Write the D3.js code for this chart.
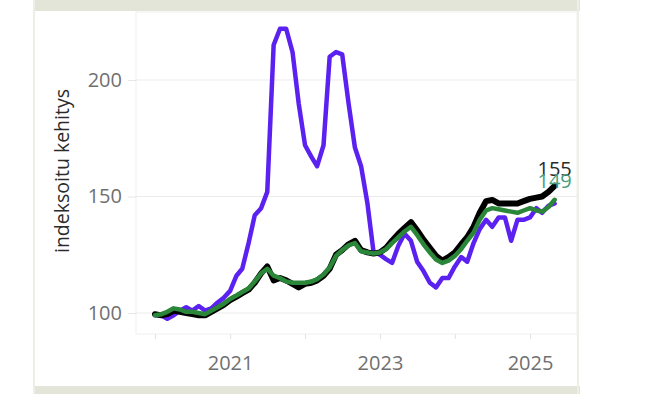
<!DOCTYPE html>
<html>
<head>
<meta charset="utf-8">
<script src="https://cdn.jsdelivr.net/npm/d3@7"></script>
<style>
  html, body { margin: 0; padding: 0; background: #ffffff; }
  svg { display: block; }
</style>
</head>
<body>
<svg id="chart" width="650" height="394"></svg>
<script>
// ---- data (monthly, Jan 2020 .. May 2025) ----
const startMonth = "2020-01";
const purpleValues = [99, 99, 97.5, 99, 101, 102.5, 101, 103, 101, 102, 104.5, 106.5,
  109.5, 116, 119, 130, 142, 145, 152, 215, 222, 222, 212, 190,
  172, 167, 163, 172, 210, 212, 211, 190, 171, 163, 147, 126,
  125, 123, 121.5, 129, 134, 131, 122, 118, 113, 111, 115, 115,
  120, 124, 122, 130, 136, 140, 137, 141, 141, 131, 140, 140,
  141, 145, 143, 146, 147];
const blackValues = [99.5, 99, 99.5, 101, 100.5, 100, 99.5, 99, 99, 100.5, 102, 103.5,
  105.5, 107, 108.5, 110, 113, 117, 120, 114, 115, 114, 112.5, 111,
  112.5, 113, 114, 116, 119, 125, 127, 129.5, 131, 127, 126, 125.5,
  126, 128, 131, 134, 136.5, 139, 135.5, 131.5, 128, 124.5, 122.5, 124,
  126, 129.5, 132.5, 137, 143, 148, 148.5, 147, 147, 147, 147, 148,
  149, 149.5, 150, 152, 154.6];
const greenValues = [99, 99.5, 100.5, 102, 101.5, 100.5, 100.5, 100, 99.5, 101, 102.5, 104,
  106, 107.5, 109, 110.5, 113.5, 117, 119, 116, 115, 113.5, 113, 113,
  113, 113.5, 114.5, 116.5, 119.5, 124.5, 127, 129, 130, 126.5, 126, 125.5,
  126, 127.5, 130, 132.5, 135, 137, 133.5, 129.5, 126, 123, 121.5, 122.5,
  124.5, 127.5, 131, 134.5, 140, 144, 145, 144.5, 144, 143.5, 143, 144,
  145, 144, 143.5, 145.5, 148.6];
const yTicks = [100, 150, 200];
const xTickYears = [2020, 2021, 2022, 2023, 2024, 2025];
const xLabelYears = [2021, 2023, 2025];
const yTitle = "indeksoitu kehitys";

// ---- setup ----
const svg = d3.select("#chart");
const parseMonth = d3.timeParse("%Y-%m");
const t0 = parseMonth(startMonth);
const dates = purpleValues.map((_, i) => d3.timeMonth.offset(t0, i));

const panel = { left: 136, right: 577, top: 12, bottom: 334 };

const x = d3.scaleTime()
  .domain([new Date(2020, 0, 1), new Date(2025, 0, 1)])
  .range([155, 530]);
const y = d3.scaleLinear()
  .domain([100, 200])
  .range([313, 80]);

// outer frame
const frameCol = "#e4e5d9";
svg.append("rect").attr("x", 33).attr("y", 0).attr("width", 547).attr("height", 11).attr("fill", frameCol);
svg.append("rect").attr("x", 33).attr("y", 386).attr("width", 547).attr("height", 8).attr("fill", frameCol);
svg.append("rect").attr("x", 33).attr("y", 0).attr("width", 2).attr("height", 394).attr("fill", "#eeeee6");
svg.append("rect").attr("x", 577).attr("y", 0).attr("width", 2).attr("height", 394).attr("fill", "#eeeee6");

// panel border
svg.append("rect")
  .attr("x", panel.left).attr("y", panel.top)
  .attr("width", panel.right - panel.left).attr("height", panel.bottom - panel.top)
  .attr("fill", "none").attr("stroke", "#efefef").attr("stroke-width", 1);

// y grid + axis
const yAxis = d3.axisLeft(y).tickValues(yTicks).tickSize(8).tickPadding(6);
const gy = svg.append("g").attr("transform", `translate(${panel.left},0)`).call(yAxis);
gy.select(".domain").remove();
gy.selectAll(".tick line").attr("stroke", "#e6e6e6");
gy.selectAll(".tick text")
  .attr("fill", "#707070").attr("font-family", "'Open Sans', sans-serif").attr("font-size", 20);
svg.append("g").selectAll("line").data(yTicks).join("line")
  .attr("x1", panel.left).attr("x2", panel.right)
  .attr("y1", d => y(d)).attr("y2", d => y(d))
  .attr("stroke", "#ebebeb").attr("stroke-width", 1.2);

// x axis
const xAxis = d3.axisBottom(x)
  .tickValues(xTickYears.map(yr => new Date(yr, 0, 1)))
  .tickSize(5).tickPadding(17)
  .tickFormat(d => xLabelYears.includes(d.getFullYear()) ? d3.timeFormat("%Y")(d) : "");
const gx = svg.append("g").attr("transform", `translate(0,${panel.bottom})`).call(xAxis);
gx.select(".domain").remove();
gx.selectAll(".tick line").attr("stroke", "#e3e3e3");
gx.selectAll(".tick text")
  .attr("fill", "#707070").attr("font-family", "'Open Sans', sans-serif").attr("font-size", 20);

// y title
svg.append("text")
  .attr("transform", `translate(69,171) rotate(-90)`)
  .attr("text-anchor", "middle")
  .attr("font-family", "'Open Sans', sans-serif").attr("font-size", 19.5)
  .attr("fill", "#2b2b2b")
  .text(yTitle);

// lines
const line = d3.line().x((d, i) => x(dates[i])).y(d => y(d)).curve(d3.curveLinear);
const series = [
  { values: purpleValues, color: "#5b21f0", width: 4.5 },
  { values: blackValues, color: "#000000", width: 6 },
  { values: greenValues, color: "#2a8638", width: 4.5 }
];
svg.append("g").selectAll("path").data(series).join("path")
  .attr("d", d => line(d.values))
  .attr("fill", "none")
  .attr("stroke", d => d.color)
  .attr("stroke-width", d => d.width)
  .attr("stroke-linejoin", "round")
  .attr("stroke-linecap", "round");

// end labels (overlapping slightly, as in the reference)
const labels = [
  { values: blackValues, color: "#2a2a2a", dy: -10 },
  { values: greenValues, color: "#4a9e7e", dy: -12 }
];
svg.append("g").selectAll("text").data(labels).join("text")
  .attr("x", d => x(dates[d.values.length - 1]))
  .attr("y", d => y(d.values[d.values.length - 1]) + d.dy)
  .attr("text-anchor", "middle")
  .attr("font-family", "'Open Sans', sans-serif").attr("font-size", 20)
  .attr("fill", d => d.color)
  .text(d => Math.round(d.values[d.values.length - 1]));
</script>
</body>
</html>
